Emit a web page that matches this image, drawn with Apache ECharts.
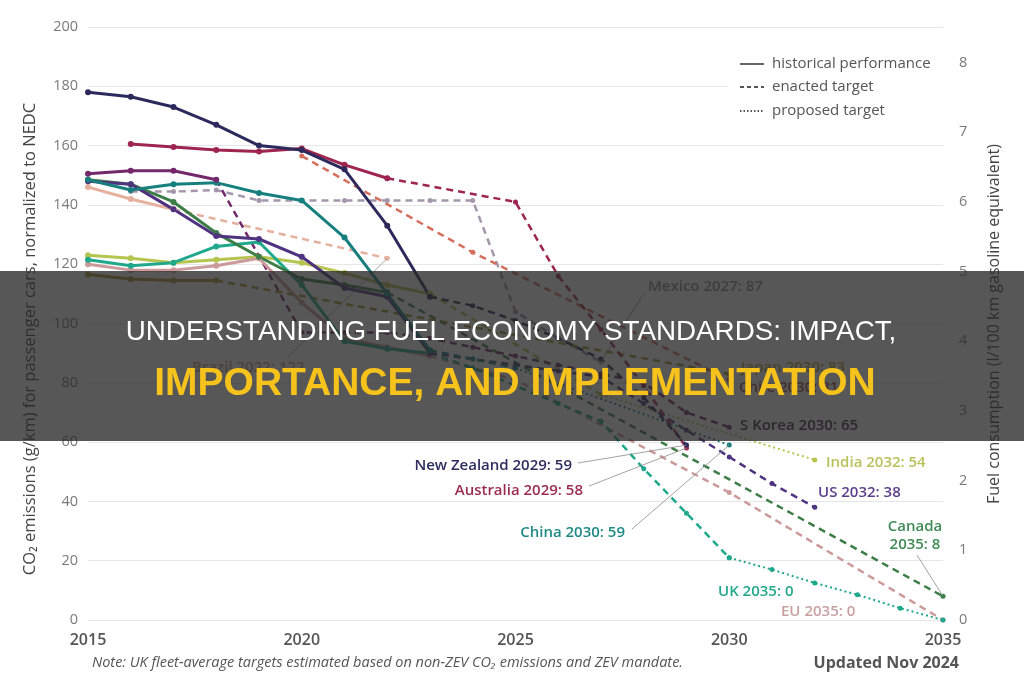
<!DOCTYPE html>
<html>
<head>
<meta charset="utf-8">
<script src="https://cdn.jsdelivr.net/npm/echarts@6/dist/echarts.min.js"></script>
<style>
  html, body { margin: 0; padding: 0; background: #fff; }
  #chart { width: 1024px; height: 680px; }
</style>
</head>
<body>
<div id="chart"></div>
<script>
// values: [year, g CO2/km normalized to NEDC]
const nzHist = [[2015,178],[2016,176.5],[2017,173],[2018,167],[2019,160],[2020,158.5],[2021,152],[2022,133],[2023,109]]
const nzEnacted = [[2023,109],[2024,106],[2025,101],[2026,95],[2027,88],[2028,75],[2029,59]]
const ausHist = [[2016,160.5],[2017,159.5],[2018,158.5],[2019,158],[2020,159],[2021,153.5],[2022,149]]
const ausEnacted = [[2022,149],[2025,141],[2026,116],[2027,98],[2028,79],[2029,58]]
const korHist = [[2015,150.5],[2016,151.5],[2017,151.5],[2018,148.5]]
const korEnacted = [[2018,148.5],[2020,97],[2021,97],[2022,97],[2023,95],[2024,92],[2025,89],[2026,86],[2027,83],[2028,80],[2029,70],[2030,65]]
const chnHist = [[2015,148.5],[2016,145],[2017,147],[2018,147.5],[2019,144],[2020,141.5],[2021,129],[2022,110],[2023,91]]
const chnEnacted = [[2023,91],[2024,88],[2025,85]]
const chnProposed = [[2025,85],[2030,59]]
const usHist = [[2015,148],[2016,147],[2017,138.5],[2018,129.5],[2019,128.5],[2020,122.5],[2021,112],[2022,109],[2023,90]]
const usEnacted = [[2023,90],[2024,88],[2025,86],[2026,84],[2027,82],[2028,73],[2029,64],[2030,55],[2031,46],[2032,38]]
const canHist = [[2015,148.5],[2016,147],[2017,141],[2018,130.5],[2019,122.5],[2020,115],[2021,113],[2022,110.5]]
const canEnacted = [[2022,110.5],[2035,8]]
const ukHist = [[2015,121.5],[2016,119.5],[2017,120.5],[2018,126],[2019,127.5],[2020,113],[2021,94],[2022,91.5],[2023,90]]
const ukEnacted = [[2023,90],[2024,85],[2025,79],[2026,73],[2027,67],[2028,51],[2029,36],[2030,21]]
const ukProposed = [[2030,21],[2031,17],[2032,12.5],[2033,8.5],[2034,4],[2035,0]]
const euHist = [[2015,120],[2016,118],[2017,118],[2018,119.5],[2019,122],[2020,107],[2021,95],[2022,92],[2023,89]]
const euEnacted = [[2023,89],[2025,81],[2030,43],[2035,0]]
const braHist = [[2015,146],[2016,142],[2017,138.5]]
const braEnacted = [[2017,138.5],[2022,122]]
const mexEnacted = [[2016,144.5],[2017,144.5],[2018,145],[2019,141.5],[2020,141.5],[2021,141.5],[2022,141.5],[2023,141.5],[2024,141.5],[2025,104],[2026,95],[2027,87]]
const chlEnacted = [[2020,156.5],[2024,124],[2030,81]]
const jpnHist = [[2015,116.5],[2016,115],[2017,114.5],[2018,114.5]]
const jpnEnacted = [[2018,114.5],[2030,83]]
const indHist = [[2015,123],[2016,122],[2017,120.5],[2018,121.5],[2019,122.5],[2020,120.5],[2021,117],[2022,113],[2023,110]]
const indEnacted = [[2023,110],[2027,76]]
const indProposed = [[2027,76],[2032,54]]

const xTicks = [2015, 2035, 5]          // min, max, step
const gPerLitre = 23.5                  // g CO2/km per l/100 km gasoline

// name, colour, historical, enacted, proposed
const countries = [
  ['Brazil', '#e6b09e', braHist, braEnacted, null],
  ['Mexico', '#a597ab', null, mexEnacted, null],
  ['Chile', '#d56e5c', null, chlEnacted, null],
  ['Japan', '#a8922c', jpnHist, jpnEnacted, null],
  ['India', '#b6c450', indHist, indEnacted, indProposed],
  ['EU', '#cc9a9a', euHist, euEnacted, null],
  ['UK', '#1fa88c', ukHist, ukEnacted, ukProposed],
  ['Canada', '#3d7d48', canHist, canEnacted, null],
  ['US', '#4f3380', usHist, usEnacted, null],
  ['China', '#17807e', chnHist, chnEnacted, chnProposed],
  ['S Korea', '#74296c', korHist, korEnacted, null],
  ['Australia', '#9e2550', ausHist, ausEnacted, null],
  ['New Zealand', '#2c2a5c', nzHist, nzEnacted, null],
]

const FONT = '"Open Sans", "Noto Sans", sans-serif'
const lineKinds = {
  historical: { width: 3, type: 'solid', size: 6, z: 4 },
  enacted: { width: 2.5, type: [7, 5], size: 5, z: 3 },
  proposed: { width: 2, type: [2, 3], size: 5, z: 3 },
}

function lineSeries(name, color, data, kind) {
  const k = lineKinds[kind]
  return {
    name: name + ' ' + kind, type: 'line', data: data,
    symbol: 'circle', symbolSize: k.size, showSymbol: true,
    lineStyle: { color: color, width: k.width, type: k.type },
    itemStyle: { color: color },
    z: k.z, silent: true, animation: false
  }
}

var series = []
countries.forEach(c => {
  if(c[3]) series.push(lineSeries(c[0], c[1], c[3], 'enacted'))
  if(c[4]) series.push(lineSeries(c[0], c[1], c[4], 'proposed'))
})
countries.forEach(c => {
  if(c[2]) series.push(lineSeries(c[0], c[1], c[2], 'historical'))
})

const chart = echarts.init(document.getElementById('chart'))
chart.setOption({
  animation: false,
  textStyle: { fontFamily: FONT },
  grid: { left: 88, right: 81, top: 27, bottom: 60, containLabel: false, outerBoundsMode: 'none' },
  xAxis: {
    type: 'value', min: xTicks[0], max: xTicks[1], interval: xTicks[2],
    axisLine: { show: false }, axisTick: { show: false }, splitLine: { show: false },
    axisLabel: { formatter: v => String(v), color: '#555', fontSize: 16, fontWeight: 600, margin: 12, fontFamily: FONT }
  },
  yAxis: [
    {
      type: 'value', min: 0, max: 200, interval: 20,
      axisLine: { show: false }, axisTick: { show: false },
      splitLine: { lineStyle: { color: '#e6e6e6', width: 1 } },
      axisLabel: { color: '#7a7a7a', fontSize: 14.5, margin: 10, fontFamily: FONT }
    },
    {
      type: 'value', min: 0, max: 200 / gPerLitre, interval: 1, position: 'right',
      axisLine: { show: false }, axisTick: { show: false }, splitLine: { show: false },
      axisLabel: { color: '#7a7a7a', fontSize: 14.5, margin: 16, fontFamily: FONT,
        formatter: v => Number.isInteger(v) ? String(v) : '' }
    }
  ],
  series: series
})

// annotations: label text, colour, text anchor, leader start, data point
const notes = [
  { text: 'Brazil 2022: 122', color: '#c9a27c', x: 192, y: 368, align: 'left', from: [288, 357], to: braEnacted[1], z: 40 },
  { text: 'Mexico 2027: 87', color: '#8a8a8a', x: 648, y: 287, align: 'left', from: [644, 293], to: mexEnacted[11], z: 40 },
  { text: 'Japan 2030: 83', color: '#b8a030', x: 741, y: 368, align: 'left', z: 40 },
  { text: 'Chile 2030: 81', color: '#a8473c', x: 739, y: 388, align: 'left', z: 40 },
  { text: 'S Korea 2030: 65', color: '#3b2640', x: 740, y: 426, align: 'left', z: 40 },
  { text: 'New Zealand 2029: 59', color: '#2e2d5e', x: 572, y: 466, align: 'right', from: [578, 463], to: nzEnacted[6] },
  { text: 'Australia 2029: 58', color: '#9b2c50', x: 583, y: 491, align: 'right', from: [589, 486], to: ausEnacted[5] },
  { text: 'China 2030: 59', color: '#1f8a84', x: 625, y: 533, align: 'right', from: [632, 529], to: chnProposed[1] },
  { text: 'India 2032: 54', color: '#b8c25a', x: 826, y: 463, align: 'left' },
  { text: 'US 2032: 38', color: '#5b3f8c', x: 818, y: 493, align: 'left' },
  { text: 'Canada\n2035: 8', color: '#3f8a55', x: 915, y: 536, align: 'center', from: [917, 555], to: canEnacted[1] },
  { text: 'UK 2035: 0', color: '#22a88c', x: 718, y: 592, align: 'left' },
  { text: 'EU 2035: 0', color: '#c9a0a0', x: 781, y: 612, align: 'left' },
]

var graphic = []
notes.forEach(n => {
  if(n.to) {
    const p = chart.convertToPixel({ seriesIndex: 0 }, n.to)
    graphic.push({ type: 'line', silent: true, z: n.z || 20,
      shape: { x1: n.from[0], y1: n.from[1], x2: p[0], y2: p[1] },
      style: { stroke: '#8c8c8c', lineWidth: 0.8 } })
  }
  graphic.push({ type: 'text', x: n.x, y: n.y, silent: true, z: n.z || 20,
    style: { text: n.text, fill: n.color, font: `600 15px ${FONT}`, lineHeight: 18,
      align: n.align, textAlign: n.align, verticalAlign: 'middle', textVerticalAlign: 'middle' } })
})

// legend box
graphic.push({ type: 'rect', shape: { x: 727, y: 42, width: 225, height: 88 }, style: { fill: '#fff' }, z: 5, silent: true })
const legendRows = [['historical performance', 'solid', 64], ['enacted target', [4, 3], 87], ['proposed target', [1.5, 2], 111]]
legendRows.forEach(r => {
  graphic.push({ type: 'line', z: 6, silent: true, shape: { x1: 740, y1: r[2], x2: 764, y2: r[2] },
    style: { stroke: '#555', lineWidth: 1.8, lineDash: r[1] == 'solid' ? null : r[1] } })
  graphic.push({ type: 'text', z: 6, silent: true, x: 772, y: r[2],
    style: { text: r[0], fill: '#555', font: `15px ${FONT}`, verticalAlign: 'middle', textVerticalAlign: 'middle' } })
})

// axis titles
graphic.push({ type: 'text', x: 30, y: 339, rotation: Math.PI / 2, silent: true,
  style: { text: 'CO₂ emissions (g/km) for passenger cars, normalized to NEDC', fill: '#444', font: `500 16.5px ${FONT}`,
    align: 'center', textAlign: 'center', verticalAlign: 'middle', textVerticalAlign: 'middle' } })
graphic.push({ type: 'text', x: 994, y: 324, rotation: Math.PI / 2, silent: true,
  style: { text: 'Fuel consumption (l/100 km gasoline equivalent)', fill: '#444', font: `500 16px ${FONT}`,
    align: 'center', textAlign: 'center', verticalAlign: 'middle', textVerticalAlign: 'middle' } })

// footer
graphic.push({ type: 'text', x: 92, y: 663, silent: true,
  style: { text: 'Note: UK fleet-average targets estimated based on non-ZEV CO₂ emissions and ZEV mandate.', fill: '#555',
    font: `italic 14.5px ${FONT}`, verticalAlign: 'middle', textVerticalAlign: 'middle' } })
graphic.push({ type: 'text', x: 959, y: 663, silent: true,
  style: { text: 'Updated Nov 2024', fill: '#555', font: `bold 16px ${FONT}`,
    align: 'right', textAlign: 'right', verticalAlign: 'middle', textVerticalAlign: 'middle' } })

// title banner over the chart
graphic.push({ type: 'rect', shape: { x: 0, y: 271, width: 1024, height: 170 }, style: { fill: 'rgba(40,40,40,0.78)' }, z: 100, silent: true })
graphic.push({ type: 'text', x: 511, y: 332, z: 101, silent: true,
  style: { text: 'UNDERSTANDING FUEL ECONOMY STANDARDS: IMPACT,', fill: '#ffffff', font: '27.8px "Liberation Sans", Arial, sans-serif',
    align: 'center', textAlign: 'center', verticalAlign: 'middle', textVerticalAlign: 'middle' } })
graphic.push({ type: 'text', x: 515, y: 384, z: 101, silent: true,
  style: { text: 'IMPORTANCE, AND IMPLEMENTATION', fill: '#f6c21c', font: 'bold 39px "Liberation Sans", Arial, sans-serif',
    align: 'center', textAlign: 'center', verticalAlign: 'middle', textVerticalAlign: 'middle' } })

chart.setOption({ graphic: graphic })
</script>
</body>
</html>
